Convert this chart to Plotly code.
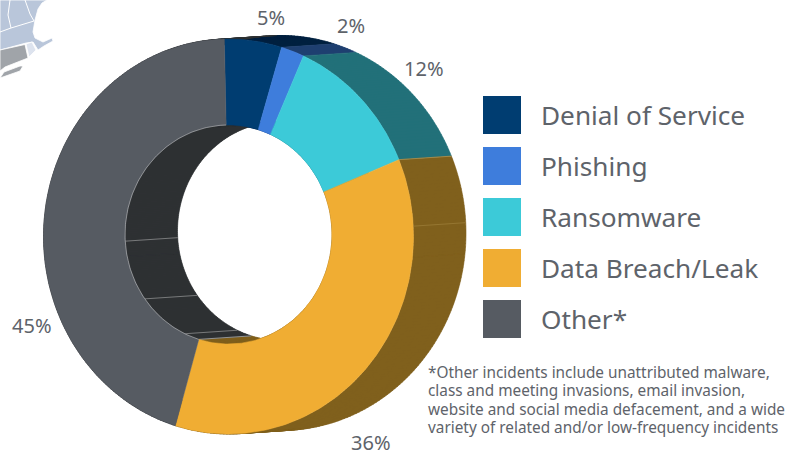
import numpy as np
import plotly.graph_objects as go

categories = ["Denial of Service", "Phishing", "Ransomware", "Data Breach/Leak", "Other*"]
shares = [5, 2, 12, 36, 45]
share_labels = ["5%", "2%", "12%", "36%", "45%"]
face_colors = ["#003D71", "#3E7DDC", "#3CCAD8", "#F0AD33", "#565B62"]
wall_colors = ["#00203F", "#1F3F70", "#227079", "#80601C", "#2E3033"]
footnote_lines = [
    "*Other incidents include unattributed malware,",
    "class and meeting invasions, email invasion,",
    "website and social media defacement, and a wide",
    "variety of related and/or low-frequency incidents",
]
TEXT = "#5E636A"
FONT = "Noto Sans"

# geometry of the tilted ring, in pixels of the 801x452 frame
CX, CY, RX, RY = 228.5, 236.5, 185.0, 197.5
HCX, HCY, HRX, HRY = 228.5, 234.5, 103.5, 109.5
DX, DY = 52.5, -3.5
START = -1.3


def outer(t, back=False):
    t = np.radians(t)
    return CX + RX * np.sin(t) + (DX if back else 0), CY - RY * np.cos(t) + (DY if back else 0)


def inner(t, back=False):
    t = np.radians(t)
    return HCX + HRX * np.sin(t) + (DX if back else 0), HCY - HRY * np.cos(t) + (DY if back else 0)


edges = START + np.concatenate([[0], np.cumsum(shares)]) * 360.0 / sum(shares)
fig = go.Figure()


def angles(a, b):
    return np.linspace(a, b, max(int((b - a) / 1.0) + 2, 3))


def add_wall(fn, a, b, color, name):
    xs, ys = [], []
    th = angles(a, b)
    for p, q in zip(th[:-1], th[1:]):
        x0, y0 = fn(p)
        x1, y1 = fn(q)
        x2, y2 = fn(q, True)
        x3, y3 = fn(p, True)
        xs += [x0, x1, x2, x3, x0, None]
        ys += [y0, y1, y2, y3, y0, None]
    fig.add_trace(go.Scatter(x=xs, y=ys, mode="lines", fill="toself", fillcolor=color,
                             line=dict(color=color, width=0.6), hoverinfo="skip", name=name))


for i, c in enumerate(categories):
    add_wall(outer, edges[i], edges[i + 1], wall_colors[i], c + " outer wall")
for i, c in enumerate(categories):
    add_wall(inner, edges[i], edges[i + 1], wall_colors[i], c + " inner wall")

# seams of the side walls
for t, fn, col in [(87, outer, "rgba(190,160,90,0.35)"), (edges[3], outer, "rgba(190,160,90,0.6)"),
                   (edges[4], inner, "rgba(210,210,210,0.6)"), (205, inner, "rgba(210,210,210,0.45)"),
                   (234, inner, "rgba(210,210,210,0.45)"), (266.5, inner, "rgba(210,210,210,0.45)")]:
    x0, y0 = fn(t)
    x1, y1 = fn(t, True)
    fig.add_trace(go.Scatter(x=[x0, x1], y=[y0, y1], mode="lines", line=dict(color=col, width=1),
                             hoverinfo="skip", showlegend=False))

for i, c in enumerate(categories):
    th = angles(edges[i], edges[i + 1])
    ox, oy = outer(th)
    ix, iy = inner(th[::-1])
    fig.add_trace(go.Scatter(x=np.r_[ox, ix, ox[0]], y=np.r_[oy, iy, oy[0]], mode="lines", fill="toself",
                             fillcolor=face_colors[i], line=dict(color=face_colors[i], width=0.5),
                             name=c, text=f"{c}: {share_labels[i]}", hoverinfo="text"))

# light rim round the mouth of the hole, over the grey face
th = angles(edges[4], edges[5])
rx, ry = inner(th)
fig.add_trace(go.Scatter(x=rx, y=ry, mode="lines", line=dict(color="rgba(225,225,225,0.55)", width=0.8),
                         hoverinfo="skip", showlegend=False))

# New England map fragment, top-left corner
map_parts = [
    ("#B9C6DA", [(0, 0), (47, 0), (42, 3), (38, 9), (35, 20), (33, 32), (35, 38), (43, 42), (52, 38), (53, 41),
                 (44, 46), (38, 50), (33, 42), (26, 43), (0, 50)]),
    ("#DDE3EE", [(26, 44), (32, 42), (36, 50), (29, 57)]),
    ("#A0A4A9", [(0, 50), (25, 44.5), (28, 58), (5, 67), (0, 71)]),
    ("#A0A4A9", [(0, 78), (4, 72), (20, 66), (23, 66), (20, 71), (8, 75)]),
]
for col, pts in map_parts:
    fig.add_trace(go.Scatter(x=[p[0] for p in pts] + [pts[0][0]], y=[p[1] for p in pts] + [pts[0][1]], mode="lines",
                             fill="toself", fillcolor=col, line=dict(color="white", width=0.8), hoverinfo="skip"))
for pts in [[(10, 0), (8, 15), (11, 28)], [(25, 0), (30, 14), (34, 21)], [(0, 32), (11, 28), (34, 21)]]:
    fig.add_trace(go.Scatter(x=[p[0] for p in pts], y=[p[1] for p in pts], mode="lines",
                             line=dict(color="white", width=1), hoverinfo="skip"))

annotations = []
for lab, (x, y) in zip(share_labels, [(271, 17), (351, 25), (424, 68), (371, 442.5), (32, 325)]):
    annotations.append(dict(x=x, y=y, text=lab, showarrow=False, xanchor="center", yanchor="middle",
                            font=dict(family=FONT, size=20, color=TEXT)))

shapes = []
for i, c in enumerate(categories):
    y0 = 96 + 51 * i
    shapes.append(dict(type="rect", x0=483, x1=521, y0=y0, y1=y0 + 38, fillcolor=face_colors[i], line_width=0))
    annotations.append(dict(x=538.5, y=y0 + 19, text=c, showarrow=False, xanchor="left", yanchor="middle",
                            font=dict(family=FONT, size=26.2, color=TEXT)))

for i, line in enumerate(footnote_lines):
    annotations.append(dict(x=425.5, y=371.5 + 18.5 * i, text=line, showarrow=False, xanchor="left", yanchor="middle",
                            font=dict(family=FONT, size=15.35, color=TEXT)))

fig.update_layout(
    width=801, height=452, margin=dict(l=0, r=0, t=0, b=0), showlegend=False,
    paper_bgcolor="white", plot_bgcolor="white",
    xaxis=dict(range=[0, 801], visible=False, fixedrange=True),
    yaxis=dict(range=[452, 0], visible=False, fixedrange=True),
    shapes=shapes, annotations=annotations,
)
fig.write_html("out.html", config={"displayModeBar": False},
               post_script="document.body.style.margin='0';document.body.style.overflow='hidden';")
